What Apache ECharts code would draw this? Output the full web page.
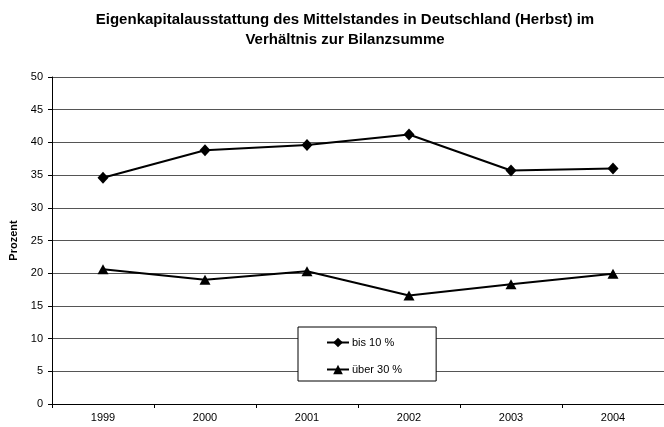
<!DOCTYPE html>
<html>
<head>
<meta charset="utf-8">
<script src="https://cdn.jsdelivr.net/npm/echarts@6/dist/echarts.min.js"></script>
<style>
  html, body { margin: 0; padding: 0; background: #fff; }
  #chart { width: 664px; height: 427px; }
</style>
</head>
<body>
<div id="chart"></div>
<script>
// Jahre
var years = ['1999', '2000', '2001', '2002', '2003', '2004'];
// Eigenkapitalquote bis 10 %
var bis10 = [34.6, 38.8, 39.6, 41.2, 35.7, 36.0];
// Eigenkapitalquote über 30 %
var ueber30 = [20.6, 19.0, 20.3, 16.6, 18.3, 19.9];

var myChart = echarts.init(document.getElementById('chart'));

var font = 'Liberation Sans, Arial, sans-serif';

var option = {
  backgroundColor: '#fff',
  animation: false,
  title: {
    text: 'Eigenkapitalausstattung des Mittelstandes in Deutschland (Herbst) im\nVerhältnis zur Bilanzsumme',
    left: 340,
    top: 5,
    textAlign: 'center',
    textStyle: {
      color: '#000',
      fontFamily: font,
      fontWeight: 'bold',
      fontSize: 15,
      lineHeight: 20
    }
  },
  grid: {
    left: 52,
    right: -8,
    top: 77,
    bottom: 23
  },
  xAxis: {
    type: 'category',
    data: years,
    boundaryGap: true,
    axisLine: { lineStyle: { color: '#000', width: 1 } },
    axisTick: { show: true, length: 4, lineStyle: { color: '#000' } },
    axisLabel: { color: '#000', fontFamily: font, fontSize: 11, margin: 8 }
  },
  yAxis: {
    type: 'value',
    min: 0,
    max: 50,
    interval: 5,
    name: 'Prozent',
    nameLocation: 'middle',
    nameGap: 28,
    nameTextStyle: { color: '#000', fontFamily: font, fontWeight: 'bold', fontSize: 11 },
    axisLine: { show: true, lineStyle: { color: '#000', width: 1 } },
    axisTick: { show: true, length: 4, lineStyle: { color: '#000' } },
    axisLabel: { color: '#000', fontFamily: font, fontSize: 11, margin: 9 },
    splitLine: { show: true, lineStyle: { color: '#555', width: 1 } }
  },
  legend: {
    orient: 'vertical',
    left: 298,
    top: 327,
    padding: [10, 34, 6, 28],
    itemGap: 16,
    itemWidth: 22,
    itemHeight: 12,
    backgroundColor: '#fff',
    borderColor: '#000',
    borderWidth: 1,
    borderRadius: 0,
    textStyle: { color: '#000', fontFamily: font, fontSize: 11, padding: [0, 0, 0, -2] },
    data: ['bis 10 %', 'über 30 %']
  },
  series: [
    {
      name: 'bis 10 %',
      type: 'line',
      data: bis10,
      symbol: 'diamond',
      symbolSize: [11, 12],
      lineStyle: { color: '#000', width: 2 },
      itemStyle: { color: '#000' }
    },
    {
      name: 'über 30 %',
      type: 'line',
      data: ueber30,
      symbol: 'triangle',
      symbolSize: [11, 10],
      lineStyle: { color: '#000', width: 2 },
      itemStyle: { color: '#000' }
    }
  ]
};

myChart.setOption(option);
</script>
</body>
</html>
